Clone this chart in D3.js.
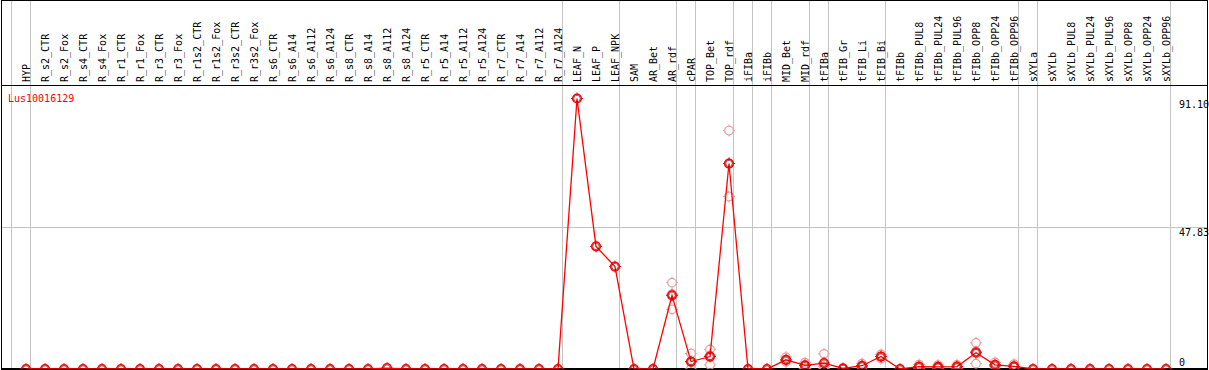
<!DOCTYPE html>
<html>
<head>
<meta charset="utf-8">
<script src="https://cdn.jsdelivr.net/npm/d3@7"></script>
<style>
  body { margin: 0; background: #fff; }
  svg { display: block; }
  text { font-family: "DejaVu Sans Mono", monospace; font-size: 10px; }
</style>
</head>
<body>
<svg width="1209" height="370"></svg>
<script>
gene = 'Lus10016129'

samples = ['HYP','R_s2_CTR','R_s2_Fox','R_s4_CTR','R_s4_Fox','R_r1_CTR','R_r1_Fox','R_r3_CTR','R_r3_Fox',
  'R_r1s2_CTR','R_r1s2_Fox','R_r3s2_CTR','R_r3s2_Fox','R_s6_CTR','R_s6_A14','R_s6_A112','R_s6_A124',
  'R_s8_CTR','R_s8_A14','R_s8_A112','R_s8_A124','R_r5_CTR','R_r5_A14','R_r5_A112','R_r5_A124',
  'R_r7_CTR','R_r7_A14','R_r7_A112','R_r7_A124','LEAF_N','LEAF_P','LEAF_NPK','SAM','AR_Bet','AR_rdf',
  'cPAR','TOP_Bet','TOP_rdf','iFIBa','iFIBb','MID_Bet','MID_rdf','tFIBa','tFIB_Gr','tFIB_Li','tFIB_Bi',
  'tFIBb','tFIBb_PUL8','tFIBb_PUL24','tFIBb_PUL96','tFIBb_OPP8','tFIBb_OPP24','tFIBb_OPP96',
  'sXYLa','sXYLb','sXYLb_PUL8','sXYLb_PUL24','sXYLb_PUL96','sXYLb_OPP8','sXYLb_OPP24','sXYLb_OPP96']

means = [0, 0,0,0,0,0,0,0,0, 0,0,0,0,0,0,0,0, 0,0,0.3,0,0,0,0,0, 0,0,0,0,
  91.10, 41.3, 34.5, 0, 0, 24.8, 2.5, 4.2, 69.2, 0, 0, 3.1, 1.2, 2.0, 0.2, 1.1, 4.2,
  0, 0.8, 0.7, 0.8, 5.5, 1.4, 0.9, 0, 0, 0, 0, 0, 0, 0, 0]

// replicate values, only where they show apart from the mean
replicates = {
  'AR_rdf': [29.1, 20.1, 25.2],
  'cPAR': [5.2, 0, 2.3],
  'TOP_Bet': [6.6, 1.4, 4.6],
  'TOP_rdf': [80.3, 58.1, 69.2],
  'MID_Bet': [4.0, 2.4, 2.9],
  'MID_rdf': [2.1, 0.2, 1.3],
  'tFIBa': [5.1, 0, 0.9],
  'tFIB_Li': [1.8, 0.6, 0.9],
  'tFIB_Bi': [4.9, 3.5, 4.2],
  'tFIBb_PUL8': [1.5, 0.3, 0.6],
  'tFIBb_PUL24': [1.3, 0.3, 0.5],
  'tFIBb_PUL96': [1.4, 0.3, 0.7],
  'tFIBb_OPP8': [8.8, 1.8, 5.9],
  'tFIBb_OPP24': [2.2, 0.8, 1.2],
  'tFIBb_OPP96': [1.6, 0.5, 0.6]
}

// samples after which a group divider is drawn (plus one before HYP)
groupEnds = ['HYP','R_r7_A124','LEAF_NPK','AR_rdf','cPAR','TOP_rdf','iFIBa','iFIBb','MID_rdf',
  'tFIBa','tFIB_Bi','tFIBb_OPP96','sXYLa','sXYLb_OPP96']

yTicks = [0, 47.83, 91.10]

let svg = d3.select('svg'),
    width = +svg.attr('width'),
    height = +svg.attr('height')

let x = d3.scalePoint().domain(samples).range([26, 1166])
let y = d3.scaleLinear().domain([0, 91.10]).range([369, 98.5])
let step = x.step()

// group dividers
svg.selectAll('.divider').data([null].concat(groupEnds)).enter().append('line')
    .attr('class', 'divider')
    .attr('x1', d => d == null ? x(samples[0]) - step + 4.5 : x(d) + 4.5)
    .attr('x2', d => d == null ? x(samples[0]) - step + 4.5 : x(d) + 4.5)
    .attr('y1', 0).attr('y2', height)
    .style('stroke', '#c4c4c4').style('stroke-width', 1)

// horizontal grid at middle tick
svg.append('line')
    .attr('x1', 1).attr('x2', width - 1)
    .attr('y1', Math.round(y(yTicks[1])) + 0.5).attr('y2', Math.round(y(yTicks[1])) + 0.5)
    .style('stroke', '#c4c4c4')

// frame and header rule
svg.append('rect').attr('x', 1.5).attr('y', 0.5).attr('width', width - 3).attr('height', height - 1.5)
    .style('fill', 'none').style('stroke', '#000').style('stroke-width', 1)
svg.append('line').attr('x1', 1).attr('x2', width - 1).attr('y1', 85.5).attr('y2', 85.5)
    .style('stroke', '#000')
svg.append('line').attr('x1', 1).attr('x2', width - 1).attr('y1', 369).attr('y2', 369)
    .style('stroke', '#000').style('stroke-width', 2)

// sample labels
svg.selectAll('.lab').data(samples).enter().append('text')
    .attr('class', 'lab')
    .attr('transform', d => `translate(${x(d) + 3.5},82) rotate(-90)`)
    .style('fill', '#000')
    .text(d => d)

svg.append('text').attr('x', 8).attr('y', 102).style('fill', 'red').text(gene)

// y labels
svg.selectAll('.ylab').data(yTicks).enter().append('text')
    .attr('class', 'ylab')
    .attr('x', 1179)
    .attr('y', d => d == 0 ? y(d) - 3 : y(d) + 9)
    .style('fill', '#000')
    .text(d => d == 0 ? '0' : d.toFixed(2))

let clip = svg.append('clipPath').attr('id', 'plotclip')
    .append('rect').attr('x', 2).attr('y', 86).attr('width', width - 4).attr('height', 283)
let plot = svg.append('g').attr('clip-path', 'url(#plotclip)')

// replicates
let reps = []
samples.forEach(s => (replicates[s] || []).forEach(v => reps.push({s: s, v: v})))

function marker(g, color, sw) {
    g.append('circle').attr('r', 4.3).style('fill', 'none').style('stroke', color).style('stroke-width', sw)
    g.append('line').attr('x1', 0).attr('x2', 0).attr('y1', -6).attr('y2', -4.5).style('stroke', color)
    g.append('line').attr('x1', 0).attr('x2', 0).attr('y1', 4.5).attr('y2', 6).style('stroke', color)
    g.append('line').attr('x1', -6).attr('x2', -4.5).attr('y1', 0).attr('y2', 0).style('stroke', color)
    g.append('line').attr('x1', 4.5).attr('x2', 6).attr('y1', 0).attr('y2', 0).style('stroke', color)
}

plot.selectAll('.rep').data(reps).enter().append('g')
    .attr('class', 'rep')
    .attr('transform', d => `translate(${x(d.s)},${y(d.v)})`)
    .each(function() { marker(d3.select(this), '#ee9a9a', 1.2) })

// mean line
let pts = samples.map((s, i) => [x(s), y(means[i])])
plot.append('path')
    .attr('d', d3.line()(pts))
    .style('fill', 'none').style('stroke', 'red').style('stroke-width', 1.3)

plot.selectAll('.mean').data(samples).enter().append('g')
    .attr('class', 'mean')
    .attr('transform', (d, i) => `translate(${x(d)},${y(means[i])})`)
    .each(function() {
        let g = d3.select(this)
        marker(g, 'red', 1.6)
        g.append('circle').attr('r', 3.2).style('fill', 'none').style('stroke', '#600').style('stroke-width', 0.6)
    })
</script>
</body>
</html>
